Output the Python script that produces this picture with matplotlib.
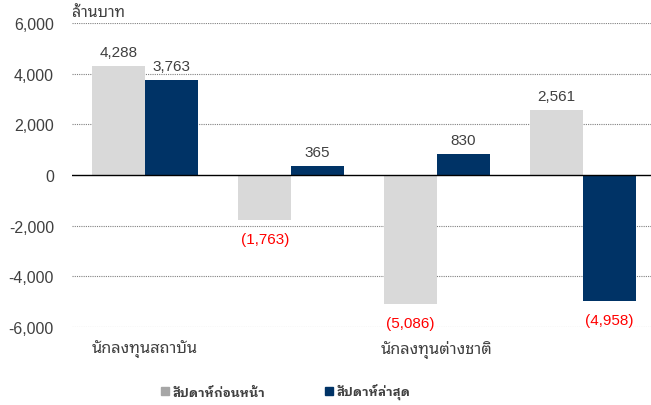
import matplotlib
matplotlib.use('Agg')
import matplotlib.pyplot as plt
import numpy as np
from matplotlib.patches import Patch

# net buy/sell by investor type, million baht
group_labels = ['นักลงทุนสถาบัน', '', 'นักลงทุนต่างชาติ', '']
prev_week = [4288, -1763, -5086, 2561]
last_week = [3763, 365, 830, -4958]
series_names = ['สัปดาห์ก่อนหน้า', 'สัปดาห์ล่าสุด']
y_ticks = [-6000, -4000, -2000, 0, 2000, 4000, 6000]
unit_label = 'ล้านบาท'

plt.rcParams['font.family'] = ['Liberation Sans', 'Noto Sans Thai Looped', 'DejaVu Sans']
THAI = ['Noto Sans Thai Looped', 'Liberation Sans']
THAI_BOLD = ['IBM Plex Sans Thai Looped', 'Noto Sans Thai Looped', 'Liberation Sans']

GRAY = '#d9d9d9'
NAVY = '#003366'
TXT = '#404040'

fig = plt.figure(figsize=(6.51, 4.06), dpi=100)
ax = fig.add_axes([0.1106, 0.192, 0.8894, 0.749])

x = np.arange(len(prev_week))
w = 0.36
b1 = ax.bar(x - w / 2, prev_week, w, color=GRAY, zorder=2)
b2 = ax.bar(x + w / 2, last_week, w, color=NAVY, zorder=2)


def fmt(v):
    return f'{v:,}' if v >= 0 else f'({abs(v):,})'


for bars, vals in ((b1, prev_week), (b2, last_week)):
    for r, v in zip(bars, vals):
        cx = r.get_x() + r.get_width() / 2
        if v >= 0:
            ax.annotate(fmt(v), (cx, v), xytext=(0, 5), textcoords='offset points',
                        ha='center', va='bottom', fontsize=11, color=TXT)
        else:
            ax.annotate(fmt(v), (cx, v), xytext=(0, -9), textcoords='offset points',
                        ha='center', va='top', fontsize=11, color='#ff0000')

ax.set_ylim(-6000, 6000)
ax.set_xlim(-0.5, 3.466)
ax.set_yticks(y_ticks)
ax.set_yticklabels([f'{t:,}' for t in y_ticks])
ax.set_xticks(x)
ax.set_xticklabels(group_labels, family=THAI)
ax.tick_params(axis='y', length=0, pad=13, labelsize=11.5, labelcolor=TXT)
ax.tick_params(axis='x', length=0, pad=9, labelsize=11.8, labelcolor=TXT)

for t in y_ticks:
    if t != 0:
        ax.axhline(t, color='#808080', lw=0.8, ls=(0, (1, 1)), zorder=1)
ax.axhline(0, color='black', lw=1.0, zorder=3)
for s in ax.spines.values():
    s.set_visible(False)

fig.text(72 / 651, 1 - 13 / 406, unit_label, fontsize=11.5, color=TXT,
         ha='left', va='center', family=THAI)

handles = [Patch(color='#a6a6a6'), Patch(color=NAVY)]
leg = fig.legend(handles, series_names, loc='center', ncol=2,
                 bbox_to_anchor=(286 / 651, 1 - 393 / 406), frameon=False,
                 handlelength=0.6, handleheight=0.6, handletextpad=0.3,
                 columnspacing=4.8,
                 prop={'size': 9, 'weight': 'bold', 'family': THAI_BOLD})
for t in leg.get_texts():
    t.set_color(TXT)

fig.savefig('out.png', dpi=100)
